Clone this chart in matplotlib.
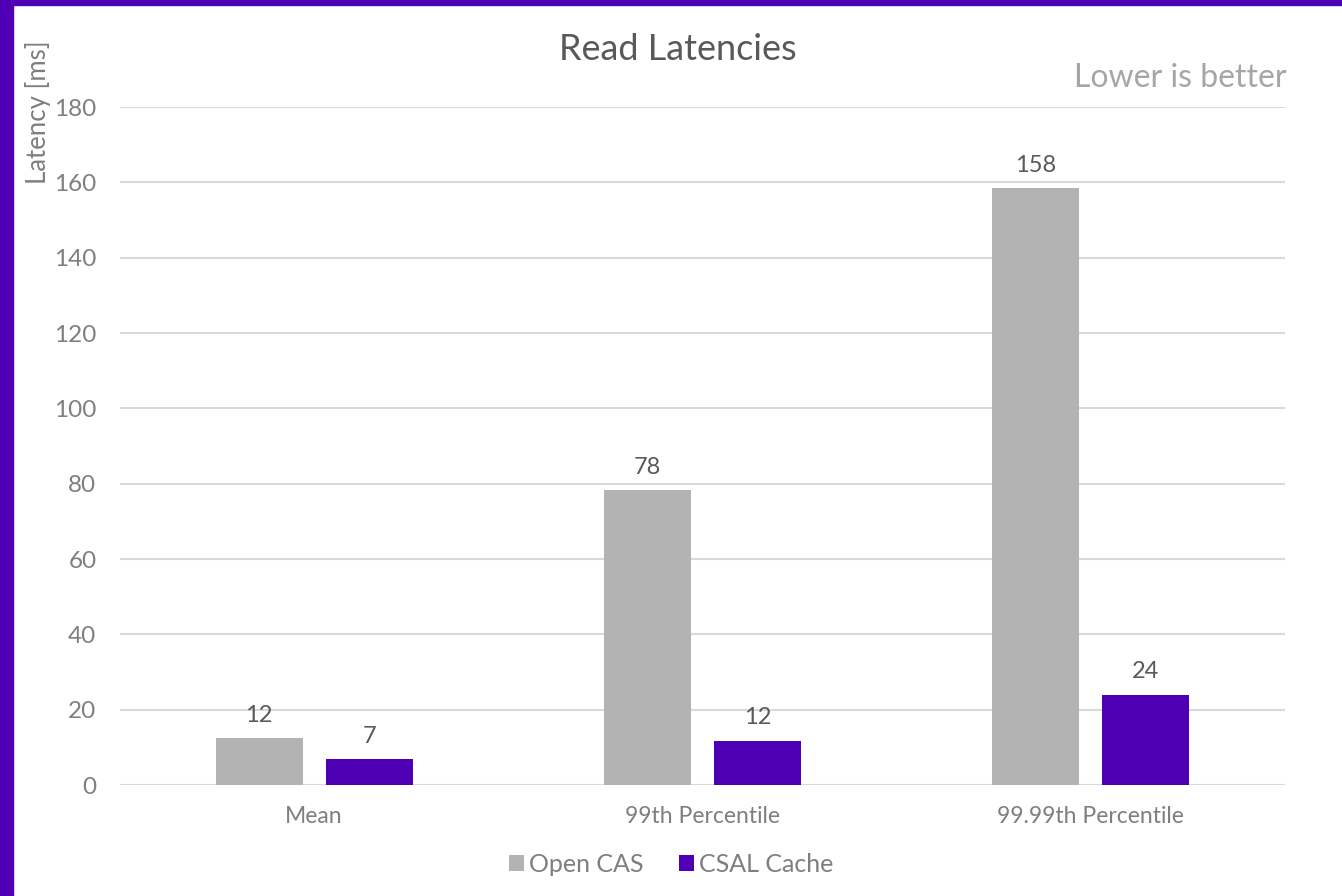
import numpy as np
import matplotlib.pyplot as plt
from matplotlib.patches import Rectangle

plt.rcParams["font.family"] = ["Lato", "DejaVu Sans"]

categories = ["Mean", "99th Percentile", "99.99th Percentile"]
open_cas = [12.4, 78.3, 158.4]
csal_cache = [6.8, 11.8, 23.9]
series_names = ["Open CAS", "CSAL Cache"]

GREY = "#b3b3b3"
PURPLE = "#5000b4"
TEXT = "#7f7f7f"
LABEL = "#595959"

fig = plt.figure(figsize=(13.42, 8.96), dpi=100)
fig.patch.set_facecolor("white")
# purple frame on the left and top edges
fig.patches.append(Rectangle((0, 0), 13 / 1342, 1, transform=fig.transFigure,
                             color=PURPLE, zorder=10))
fig.patches.append(Rectangle((0, 1 - 5 / 896), 1, 5 / 896, transform=fig.transFigure,
                             color=PURPLE, zorder=10))

ax = fig.add_axes([120 / 1342, 1 - 785 / 896, 1165 / 1342, 678 / 896])

x = np.arange(len(categories))
width = 0.224
off = 0.142
b1 = ax.bar(x - off, open_cas, width, color=GREY, label=series_names[0], zorder=3)
b2 = ax.bar(x + off, csal_cache, width, color=PURPLE, label=series_names[1], zorder=3)

for bars in (b1, b2):
    for rect in bars:
        h = rect.get_height()
        ax.annotate("%.0f" % h, (rect.get_x() + rect.get_width() / 2, h),
                    xytext=(0, 9), textcoords="offset points",
                    ha="center", va="bottom", fontsize=17, color=LABEL)

ax.set_xlim(-0.5, len(categories) - 0.5)
ax.set_ylim(0, 180)
ax.set_yticks(range(0, 181, 20))
ax.set_xticks(x)
ax.set_xticklabels(categories)
ax.grid(axis="y", color="#d9d9d9", linewidth=1.5, zorder=0)
for s in ax.spines.values():
    s.set_visible(False)
ax.tick_params(axis="both", length=0, labelsize=17.5, colors=TEXT)
ax.tick_params(axis="x", labelsize=16.5, pad=15)
ax.tick_params(axis="y", pad=17)

fig.text(678 / 1342, 1 - 49 / 896, "Read Latencies", ha="center", va="center",
         fontsize=26, color="#595959")
fig.text(1287 / 1342, 1 - 78 / 896, "Lower is better", ha="right", va="center",
         fontsize=23, color="#a6a6a6")
fig.text(38 / 1342, 1 - 40 / 896, "Latency [ms]", rotation=90, ha="center", va="top",
         fontsize=18.5, color=TEXT)

fig.legend(loc="center", bbox_to_anchor=(0.5, 1 - 864 / 896), ncol=2, frameon=False,
           fontsize=18, labelcolor=TEXT, handlelength=0.6, handleheight=0.6,
           handletextpad=0.2, columnspacing=1.4)

fig.savefig("out.png", dpi=100)
